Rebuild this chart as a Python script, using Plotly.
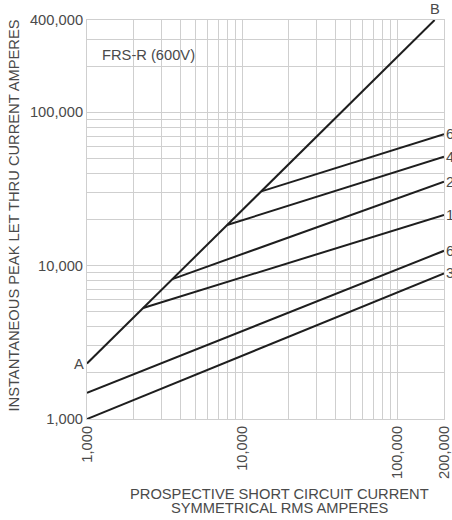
import math
import plotly.graph_objects as go

# ---- data ----
ab_x = [1000, 174000]
ab_y = [2300, 400000]

rating_labels = ["600", "400", "200", "100", "60", "30"]
rating_x = [
    [13300, 200000],
    [8000, 200000],
    [3550, 200000],
    [2300, 200000],
    [1000, 200000],
    [1000, 200000],
]
rating_y = [
    [30500, 72000],
    [18400, 51400],
    [8170, 35300],
    [5300, 21400],
    [1480, 12500],
    [1000, 8900],
]

x_grid = [m * 10 ** e for e in (3, 4) for m in range(1, 10)] + [100000, 200000]
x_labels = {1000: "1,000", 10000: "10,000", 100000: "100,000", 200000: "200,000"}
y_grid = [m * 10 ** e for e in (3, 4) for m in range(1, 10)] + [100000, 200000, 300000, 400000]
y_labels = {1000: "1,000", 10000: "10,000", 100000: "100,000", 400000: "400,000"}

FONT = "Liberation Sans, Arial, sans-serif"
FS = 14.7
TXT = "#4a4a4a"
LINE = "#1e1e1e"
GRID = "#cfcfcf"

fig = go.Figure()
fig.add_trace(go.Scatter(x=ab_x, y=ab_y, mode="lines",
                         line=dict(color=LINE, width=2), showlegend=False, hoverinfo="skip"))
for xs, ys in zip(rating_x, rating_y):
    fig.add_trace(go.Scatter(x=xs, y=ys, mode="lines",
                             line=dict(color=LINE, width=2), showlegend=False, hoverinfo="skip"))

for lab, xs, ys in zip(rating_labels, rating_x, rating_y):
    fig.add_annotation(x=math.log10(xs[-1]), y=math.log10(ys[-1]), xref="x", yref="y",
                       text=lab, showarrow=False, xanchor="left", yanchor="middle", xshift=0,
                       font=dict(family=FONT, size=FS, color=TXT))
fig.add_annotation(x=math.log10(ab_x[0]), y=math.log10(ab_y[0]), xref="x", yref="y", text="A",
                   showarrow=False, xanchor="right", yanchor="middle", xshift=-1,
                   font=dict(family=FONT, size=FS, color=TXT))
fig.add_annotation(x=math.log10(ab_x[-1]), y=math.log10(ab_y[-1]), xref="x", yref="y", text="B",
                   showarrow=False, xanchor="center", yanchor="bottom", yshift=1,
                   font=dict(family=FONT, size=FS, color=TXT))
fig.add_annotation(x=0.036, y=0.913, xref="paper", yref="paper", text="FRS-R (600V)",
                   showarrow=False, xanchor="left", yanchor="middle",
                   font=dict(family=FONT, size=FS, color=TXT))

# axis titles
fig.add_annotation(x=0, xref="paper", xanchor="center", xshift=-74,
                   y=0.5, yref="paper", yshift=4, text="INSTANTANEOUS PEAK LET THRU CURRENT AMPERES",
                   textangle=-90, showarrow=False, font=dict(family=FONT, size=FS, color=TXT))
fig.add_annotation(x=0.5, xref="paper", xshift=14, y=0, yref="paper", yanchor="middle", yshift=-75,
                   text="PROSPECTIVE SHORT CIRCUIT CURRENT", showarrow=False,
                   font=dict(family=FONT, size=FS, color=TXT))
fig.add_annotation(x=0.5, xref="paper", xshift=14, y=0, yref="paper", yanchor="middle", yshift=-89,
                   text="SYMMETRICAL RMS AMPERES", showarrow=False,
                   font=dict(family=FONT, size=FS, color=TXT))

fig.update_layout(
    width=452, height=520,
    margin=dict(l=87, r=8, t=20, b=101, autoexpand=False),
    paper_bgcolor="white", plot_bgcolor="white",
    font=dict(family=FONT, size=FS, color=TXT),
    xaxis=dict(type="log", range=[3, math.log10(200000)], automargin=False,
               tickvals=x_grid, ticktext=[x_labels.get(v, "") for v in x_grid],
               tickangle=-90, showgrid=True, gridcolor=GRID, gridwidth=1,
               showline=True, linecolor=GRID, linewidth=1, mirror=True,
               ticks="", zeroline=False, tickfont=dict(size=FS, color=TXT)),
    yaxis=dict(type="log", range=[3, math.log10(400000)], automargin=False,
               tickvals=y_grid, ticktext=[y_labels.get(v, "") for v in y_grid],
               showgrid=True, gridcolor=GRID, gridwidth=1,
               showline=True, linecolor=GRID, linewidth=1, mirror=True,
               ticks="", zeroline=False, tickfont=dict(size=FS, color=TXT)),
)

fig.write_html("out.html", config={"displayModeBar": False},
               post_script="document.body.style.margin='0';")
